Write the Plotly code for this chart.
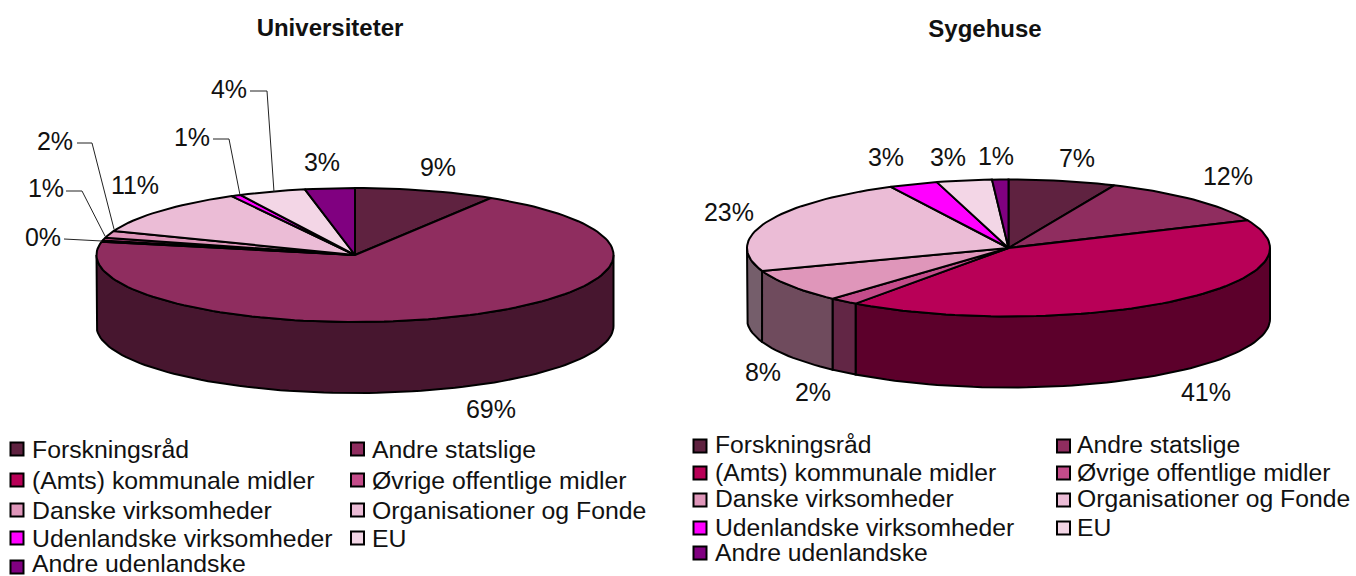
import numpy as np
import plotly.graph_objects as go

categories = ["Forskningsråd", "Andre statslige", "(Amts) kommunale midler", "Øvrige offentlige midler",
              "Danske virksomheder", "Organisationer og Fonde", "Udenlandske virksomheder", "EU", "Andre udenlandske"]
colors = ["#5F2240", "#8F2D5F", "#B80057", "#C44C8A", "#DF96BA", "#EBBCD6", "#FF00FF", "#F3D6E6", "#800080"]
universiteter = [8.8, 69.2, 0.3, 0.7, 1.7, 11.2, 0.6, 4.2, 3.1]
sygehuse = [6.6, 11.7, 41.4, 1.8, 7.8, 22.9, 3.0, 3.4, 1.0]

FONT = "Liberation Sans"
fig = go.Figure()


def side_colour(c):
    r, g, b = int(c[1:3], 16), int(c[3:5], 16), int(c[5:7], 16)
    return f"rgb({r // 2},{g // 2},{b // 2})"


def pie3d(values, cx, cy, rx, ry, depth):
    v = np.array(values, dtype=float)
    edges = np.concatenate([[0], np.cumsum(v) / v.sum() * 360])
    # side walls (only the front half of the rim is visible)
    for i, c in enumerate(colors):
        a0, a1 = max(edges[i], 90), min(edges[i + 1], 270)
        if a1 <= a0:
            continue
        t = np.radians(np.linspace(a0, a1, int((a1 - a0) / 2) + 2))
        x = cx + rx * np.sin(t)
        y = cy - ry * np.cos(t)
        fig.add_trace(go.Scatter(
            x=np.concatenate([x, x[::-1], x[:1]]),
            y=np.concatenate([y, y[::-1] + depth, y[:1]]),
            mode="lines", fill="toself", fillcolor=side_colour(c),
            line=dict(color="black", width=2), hoverinfo="skip", showlegend=False))
    # top faces
    for i, c in enumerate(colors):
        a0, a1 = edges[i], edges[i + 1]
        t = np.radians(np.linspace(a0, a1, max(int((a1 - a0) / 2), 1) + 2))
        x = np.concatenate([[cx], cx + rx * np.sin(t), [cx]])
        y = np.concatenate([[cy], cy - ry * np.cos(t), [cy]])
        fig.add_trace(go.Scatter(
            x=x, y=y, mode="lines", fill="toself", fillcolor=c,
            line=dict(color="black", width=2), hoverinfo="skip",
            name=categories[i], showlegend=False))


pie3d(universiteter, 355, 255, 258.5, 67, 71)
pie3d(sygehuse, 1008.5, 248, 261.5, 68.5, 71)


def pct(v):
    return [f"{round(a):d}%" for a in v]


label_x_u = [438, 491, 43, 46, 55, 135, 192, 229, 322]
label_y_u = [170, 412, 240, 191, 144, 188, 140, 92, 165]
label_x_s = [1077, 1228, 1206, 813, 763, 729, 886, 948, 996]
label_y_s = [161, 179, 395, 395, 375, 215, 160, 160, 159]
fig.add_trace(go.Scatter(x=label_x_u + label_x_s, y=label_y_u + label_y_s,
                         text=pct(universiteter) + pct(sygehuse), mode="text",
                         textposition="middle center",
                         textfont=dict(family=FONT, size=25, color="#111111"),
                         hoverinfo="skip", showlegend=False))

# leader lines (Universiteter labels for the thin slices)
leaders = [
    ([64, 102], [239, 241]),
    ([66, 82, 105], [191, 191, 236]),
    ([77, 92, 114], [143, 143, 229]),
    ([213, 229, 240], [139, 139, 195]),
    ([250, 267, 274], [91, 91, 192]),
]
for lx, ly in leaders:
    fig.add_trace(go.Scatter(x=lx, y=ly, mode="lines", line=dict(color="#222222", width=1),
                             hoverinfo="skip", showlegend=False))

# legends
legend_u_mx = [17, 357.5, 17, 357.5, 17, 357.5, 17, 357.5, 17]
legend_u_tx = [32, 372, 32, 372, 32, 372, 32, 372, 32]
legend_u_my = [449, 449, 480, 480, 510, 510, 538, 538, 567]
legend_u_ty = [452, 452, 483, 483, 513, 513, 541, 541, 566]
legend_s_mx = [700, 1063.5, 700, 1063.5, 700, 1063.5, 700, 1063.5, 700]
legend_s_tx = [715, 1077, 715, 1077, 715, 1077, 715, 1077, 715]
legend_s_my = [446, 446, 473, 473, 500, 500, 528, 528, 553]
legend_s_ty = [447, 447, 475, 475, 501, 501, 530, 530, 555]
for mx, tx, my, ty, fs in ((legend_u_mx, legend_u_tx, legend_u_my, legend_u_ty, 24.8),
                           (legend_s_mx, legend_s_tx, legend_s_my, legend_s_ty, 24.7)):
    fig.add_trace(go.Scatter(x=mx, y=my, mode="markers",
                             marker=dict(symbol="square", size=13, color=colors,
                                         line=dict(color="black", width=2)),
                             hoverinfo="skip", showlegend=False))
    fig.add_trace(go.Scatter(x=tx, y=ty, mode="text", text=categories, textposition="middle right",
                             textfont=dict(family=FONT, size=fs, color="#111111"),
                             hoverinfo="skip", showlegend=False))

fig.add_trace(go.Scatter(x=[330, 985], y=[30, 31], mode="text",
                         text=["<b>Universiteter</b>", "<b>Sygehuse</b>"],
                         textposition="middle center",
                         textfont=dict(family=FONT, size=24, color="#111111"),
                         hoverinfo="skip", showlegend=False))

fig.update_xaxes(range=[0, 1356], visible=False, fixedrange=True)
fig.update_yaxes(range=[576, 0], visible=False, fixedrange=True)
fig.update_layout(width=1356, height=576, margin=dict(l=0, r=0, t=0, b=0),
                  paper_bgcolor="white", plot_bgcolor="white", showlegend=False)
fig.write_html("out.html", config={"displayModeBar": False},
               post_script="document.body.style.margin='0';document.documentElement.style.overflow='hidden';")
